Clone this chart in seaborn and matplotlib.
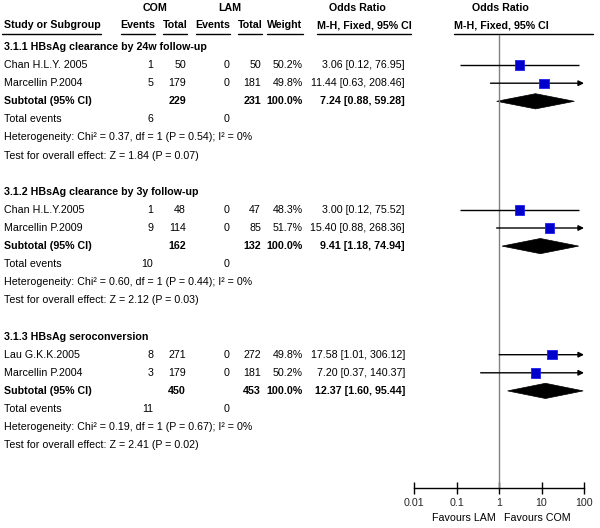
"""
Forest plot: COM vs LAM, HBsAg clearance / seroconversion (M-H fixed odds ratios).
Output: out.png (600x528)
"""

import matplotlib
matplotlib.use("Agg")

import matplotlib.pyplot as plt
import numpy as np
import pandas as pd
import seaborn as sns
from matplotlib.patches import Polygon

# ─────────────────────────────────────────────────────────────────────────────
# DATA
# ─────────────────────────────────────────────────────────────────────────────

groups = [
    "3.1.1 HBsAg clearance by 24w follow-up",
    "3.1.2 HBsAg clearance by 3y follow-up",
    "3.1.3 HBsAg seroconversion",
]
studies = [
    ["Chan H.L.Y. 2005", "Marcellin P.2004"],
    ["Chan H.L.Y.2005", "Marcellin P.2009"],
    ["Lau G.K.K.2005", "Marcellin P.2004"],
]
com_events = [[1, 5], [1, 9], [8, 3]]
com_total  = [[50, 179], [48, 114], [271, 179]]
lam_events = [[0, 0], [0, 0], [0, 0]]
lam_total  = [[50, 181], [47, 85], [272, 181]]
weights    = [[50.2, 49.8], [48.3, 51.7], [49.8, 50.2]]
or_est     = [[3.06, 11.44], [3.00, 15.40], [17.58, 7.20]]
or_lo      = [[0.12, 0.63], [0.12, 0.88], [1.01, 0.37]]
or_hi      = [[76.95, 208.46], [75.52, 268.36], [306.12, 140.37]]

sub_com_total = [229, 162, 450]
sub_lam_total = [231, 132, 453]
sub_or        = [7.24, 9.41, 12.37]
sub_lo        = [0.88, 1.18, 1.60]
sub_hi        = [59.28, 74.94, 95.44]
tot_com_ev    = [6, 10, 11]
tot_lam_ev    = [0, 0, 0]
het_chi       = [0.37, 0.60, 0.19]
het_p         = [0.54, 0.44, 0.67]
z_val         = [1.84, 2.12, 2.41]
z_p           = [0.07, 0.03, 0.02]

x_ticks  = [0.01, 0.1, 1, 10, 100]
x_labels = ["0.01", "0.1", "1", "10", "100"]

# ─────────────────────────────────────────────────────────────────────────────
# LAYOUT (pixels, 600x528 canvas; rows are 18.1 px apart)
# ─────────────────────────────────────────────────────────────────────────────

W, H = 600, 528
ROW0, ROWH = 47, 18.1


def k_of(py):
    """pixel y -> row units"""
    return (py - ROW0) / ROWH


sns.set_theme(style="white")
plt.rcParams["font.family"] = ["Liberation Sans", "DejaVu Sans"]
FS = 7.7

fig = plt.figure(figsize=(W / 100, H / 100), dpi=100)
fig.patch.set_facecolor("white")

# text layer
ax_t = fig.add_axes([0, 0, 1, 1])
ax_t.set_xlim(0, W)
ax_t.set_ylim(k_of(H), k_of(0))
ax_t.axis("off")

# forest layer
fx0, fx1, fy0, fy1 = 414, 584, 35, 488
ax_f = fig.add_axes([fx0 / W, 1 - fy1 / H, (fx1 - fx0) / W, (fy1 - fy0) / H])
ax_f.patch.set_alpha(0)
ax_f.set_xscale("log")
ax_f.set_xlim(0.01, 100)
ax_f.set_ylim(k_of(fy1), k_of(fy0))

# column anchors (right edges of numeric columns)
X_NAME, X_CE, X_CT, X_LE, X_LT, X_W, X_OR = 4, 153, 186, 229, 261, 303, 405


def txt(x, k, s, ha="left", bold=False):
    return ax_t.text(x, k, s, ha=ha, va="center", fontsize=FS,
                     fontweight="bold" if bold else "normal", color="black")


# ─────────────────────────────────────────────────────────────────────────────
# HEADER
# ─────────────────────────────────────────────────────────────────────────────

kh1, kh2, kul = k_of(8), k_of(25), k_of(33.5)
txt(155, kh1, "COM", ha="center", bold=True)
txt(230, kh1, "LAM", ha="center", bold=True)
txt(357, kh1, "Odds Ratio", ha="center", bold=True)
txt(500, kh1, "Odds Ratio", ha="center", bold=True)

hdr = [
    (X_NAME, "Study or Subgroup", "left"),
    (138, "Events", "center"),
    (175, "Total", "center"),
    (213, "Events", "center"),
    (250, "Total", "center"),
    (285, "Weight", "center"),
    (364, "M-H, Fixed, 95% CI", "center"),
    (501, "M-H, Fixed, 95% CI", "center"),
]
hdr_texts = [txt(x, kh2, s, ha=ha, bold=True) for x, s, ha in hdr]

# ─────────────────────────────────────────────────────────────────────────────
# ROWS
# ─────────────────────────────────────────────────────────────────────────────

rows = []
for g, name in enumerate(groups):
    k0 = 8 * g
    txt(X_NAME, k0, name, bold=True)
    for i, st in enumerate(studies[g]):
        k = k0 + 1 + i
        txt(X_NAME, k, st)
        txt(X_CE, k, str(com_events[g][i]), ha="right")
        txt(X_CT, k, str(com_total[g][i]), ha="right")
        txt(X_LE, k, str(lam_events[g][i]), ha="right")
        txt(X_LT, k, str(lam_total[g][i]), ha="right")
        txt(X_W, k, f"{weights[g][i]:.1f}%", ha="right")
        txt(X_OR, k, f"{or_est[g][i]:.2f} [{or_lo[g][i]:.2f}, {or_hi[g][i]:.2f}]", ha="right")
        rows.append({"k": k, "or": or_est[g][i], "lo": or_lo[g][i],
                     "hi": or_hi[g][i], "w": weights[g][i]})
    ks = k0 + 3
    txt(X_NAME, ks, "Subtotal (95% CI)", bold=True)
    txt(X_CT, ks, str(sub_com_total[g]), ha="right", bold=True)
    txt(X_LT, ks, str(sub_lam_total[g]), ha="right", bold=True)
    txt(X_W, ks, "100.0%", ha="right", bold=True)
    txt(X_OR, ks, f"{sub_or[g]:.2f} [{sub_lo[g]:.2f}, {sub_hi[g]:.2f}]", ha="right", bold=True)
    txt(X_NAME, k0 + 4, "Total events")
    txt(X_CE, k0 + 4, str(tot_com_ev[g]), ha="right")
    txt(X_LE, k0 + 4, str(tot_lam_ev[g]), ha="right")
    txt(X_NAME, k0 + 5,
        f"Heterogeneity: Chi² = {het_chi[g]:.2f}, df = 1 (P = {het_p[g]:.2f}); I² = 0%")
    txt(X_NAME, k0 + 6, f"Test for overall effect: Z = {z_val[g]:.2f} (P = {z_p[g]:.2f})")

    # subtotal diamond
    h = 0.42
    ax_f.add_patch(Polygon([(sub_lo[g], ks), (sub_or[g], ks - h),
                            (sub_hi[g], ks), (sub_or[g], ks + h)],
                           closed=True, facecolor="black", edgecolor="black", lw=0.5))

df = pd.DataFrame(rows)

# confidence intervals (arrow where they run past the axis)
xmax = ax_f.get_xlim()[1]
for _, r in df.iterrows():
    if r["hi"] > xmax:
        ax_f.annotate("", xy=(xmax, r["k"]), xytext=(r["lo"], r["k"]),
                      arrowprops=dict(arrowstyle="-|>", color="black", lw=1,
                                      mutation_scale=8, shrinkA=0, shrinkB=0))
    else:
        ax_f.hlines(r["k"], r["lo"], r["hi"], color="black", lw=1)

sns.scatterplot(data=df, x="or", y="k", marker="s", size="w", sizes=(44, 48),
                color="#0000cc", edgecolor="#2020ee", linewidth=0.6,
                legend=False, ax=ax_f, zorder=3)

ax_f.axvline(1, color="#808080", lw=1, zorder=1)

# axis styling
for s in ["left", "right", "top"]:
    ax_f.spines[s].set_visible(False)
ax_f.spines["bottom"].set_color("black")
ax_f.spines["bottom"].set_linewidth(1)
ax_f.set_xticks(x_ticks)
ax_f.set_xticklabels(x_labels, fontsize=FS)
ax_f.minorticks_off()
ax_f.tick_params(axis="x", direction="inout", length=9, width=1, color="black",
                 pad=3, bottom=True)
ax_f.set_yticks([])
ax_f.set_xlabel("")
ax_f.set_ylabel("")

kb = k_of(518)
txt(496, kb, "Favours LAM", ha="right")
txt(504, kb, "Favours COM", ha="left")

# header underlines, measured from the rendered text
fig.canvas.draw()
inv = ax_t.transData.inverted()
for i, t in enumerate(hdr_texts):
    bb = t.get_window_extent()
    (x0, _), (x1, _) = inv.transform([(bb.x0, bb.y0), (bb.x1, bb.y1)])
    if i == 0:
        x0 = 2
    if i == len(hdr_texts) - 1:
        x1 = 593
    ax_t.plot([x0, x1], [kul, kul], color="black", lw=1)

fig.savefig("out.png", dpi=100, facecolor="white")
